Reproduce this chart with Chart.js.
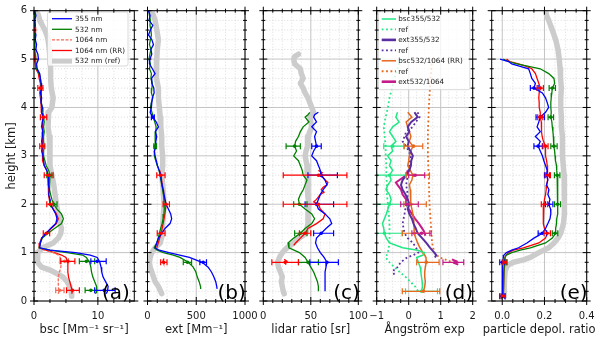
<!DOCTYPE html>
<html>
<head>
<meta charset="utf-8">
<script src="https://cdn.jsdelivr.net/npm/chart.js@4.4.0/dist/chart.umd.min.js"></script>
<style>
  html, body { margin: 0; padding: 0; background: #fff; }
  #wrap { position: relative; width: 600px; height: 341px; }
  #wrap canvas { position: absolute; left: 0; top: 0; }
</style>
</head>
<body>
<div id="wrap">
  <canvas id="pa" width="600" height="341"></canvas>
  <canvas id="pb" width="600" height="341"></canvas>
  <canvas id="pc" width="600" height="341"></canvas>
  <canvas id="pd" width="600" height="341"></canvas>
  <canvas id="pe" width="600" height="341"></canvas>
</div>
<script>
// ---- axes ----
const yMajor = [0, 1, 2, 3, 4, 5, 6];
const yMinor = [0.2, 0.4, 0.6, 0.8, 1.2, 1.4, 1.6, 1.8, 2.2, 2.4, 2.6, 2.8, 3.2, 3.4, 3.6, 3.8, 4.2, 4.4, 4.6, 4.8, 5.2, 5.4, 5.6, 5.8];

// ---- (a) backscatter ----
const hA = [6.0, 5.9, 5.8, 5.7, 5.6, 5.5, 5.4, 5.3, 5.2, 5.1, 5.0, 4.9, 4.8, 4.7, 4.6, 4.5, 4.4, 4.3, 4.2, 4.1,
  4.0, 3.9, 3.8, 3.7, 3.6, 3.5, 3.4, 3.3, 3.2, 3.1, 3.0, 2.9, 2.8, 2.7, 2.6, 2.5, 2.4, 2.3, 2.2, 2.1,
  2.0, 1.9, 1.8, 1.7, 1.6, 1.5, 1.4, 1.3, 1.2, 1.1, 1.05, 1.0, 0.95, 0.9, 0.8, 0.7, 0.6, 0.5, 0.4, 0.3, 0.2, 0.15];
const bsc355 = [0.1, 0.3, 0.1, 0.2, 0.1, 0.3, 0.2, 0.4, 0.3, 0.6, 0.7, 0.4, 0.5, 0.9, 1.0, 1.1, 1.2, 1.0, 1.2, 1.1,
  1.3, 1.2, 1.5, 1.3, 1.2, 1.4, 1.3, 1.2, 1.3, 1.2, 1.4, 1.5, 1.6, 2.0, 2.2, 2.3, 2.2, 2.4, 2.3, 2.5,
  2.6, 3.0, 3.4, 3.6, 3.4, 2.6, 1.9, 1.2, 1.0, 0.9, 2.5, 6.5, 8.8, 9.9, 10.3, 10.5, 10.6, 10.8, 11.2, 11.6, 11.5, 11.3];
const bsc532 = [0.05, 0.1, 0.05, 0.1, 0.1, 0.1, 0.15, 0.1, 0.15, 0.2, 0.2, 0.3, 0.4, 0.8, 1.0, 1.1, 1.1, 1.1, 1.2, 1.2,
  1.3, 1.4, 1.5, 1.6, 1.5, 1.6, 1.5, 1.5, 1.6, 1.5, 1.5, 1.7, 1.9, 2.3, 2.5, 2.4, 2.4, 2.5, 2.6, 2.8,
  3.1, 3.6, 4.3, 4.6, 4.3, 3.2, 2.2, 1.3, 1.0, 0.8, 2.5, 5.2, 7.6, 8.2, 8.7, 8.9, 9.0, 9.2, 9.5, 9.8, 9.8, 9.6];
const bsc1064rr = [0.1, 0.1, 0.1, 0.2, 0.1, 0.2, 0.2, 0.1, 0.1, 0.1, 0.1, 0.2, 0.3, 0.7, 0.8, 1.0, 1.0, 0.9, 1.0, 1.1,
  1.1, 1.2, 1.4, 1.4, 1.3, 1.4, 1.3, 1.3, 1.3, 1.3, 1.3, 1.4, 1.6, 2.0, 2.2, 2.3, 2.2, 2.3, 2.3, 2.4,
  2.5, 3.0, 3.5, 3.8, 3.5, 2.7, 1.9, 1.2, 0.9, 0.8, 1.8, 3.2, 4.3, 5.0, 5.3, 5.3, 5.3, 5.4, 5.6, 5.8, 6.0, 5.9];
const h1064 = [1.1, 1.05, 1.0, 0.95, 0.9, 0.8, 0.7, 0.6, 0.5, 0.4, 0.3, 0.2, 0.15];
const bsc1064 = [0.8, 1.8, 3.0, 3.8, 4.1, 4.3, 4.2, 4.0, 3.8, 3.8, 3.8, 3.9, 3.8];
const hRefA = [6.0, 5.9, 5.8, 5.7, 5.6, 5.5, 5.4, 5.3, 5.2, 5.0, 4.8, 4.6, 4.4, 4.2, 4.0, 3.9, 3.8, 3.6, 3.4, 3.2, 3.0, 2.8,
  2.6, 2.4, 2.2, 2.0, 1.8, 1.6, 1.5, 1.4, 1.3, 1.2, 1.1, 1.0, 0.9, 0.8, 0.7, 0.64, 0.55, 0.5, 0.4, 0.3, 0.2, 0.1];
const bscRef = [0.4, 0.7, 0.9, 1.3, 1.7, 2.0, 2.2, 2.3, 2.4, 2.5, 2.6, 2.6, 2.7, 3.0, 2.8, 2.3, 2.2, 2.2, 2.4, 2.5, 2.5, 2.5,
  2.8, 3.1, 3.3, 3.5, 3.8, 4.1, 4.3, 4.2, 3.8, 3.0, 1.4, 0.6, 0.5, 0.6, 1.2, 2.5, 3.8, 4.5, 5.2, 5.6, 5.8, 5.9];

// ---- (b) extinction ----
const hB = [6.0, 5.9, 5.8, 5.7, 5.6, 5.5, 5.4, 5.3, 5.2, 5.1, 5.0, 4.9, 4.8, 4.7, 4.6, 4.5, 4.4, 4.3, 4.2, 4.1,
  4.0, 3.9, 3.8, 3.7, 3.6, 3.5, 3.4, 3.3, 3.2, 3.1, 3.0, 2.9, 2.8, 2.7, 2.6, 2.5, 2.4, 2.3, 2.2, 2.1,
  2.0, 1.9, 1.8, 1.7, 1.6, 1.5, 1.4, 1.3, 1.2, 1.1, 1.05, 1.0, 0.95, 0.9, 0.8, 0.7, 0.6, 0.5, 0.4, 0.3, 0.25];
const ext355 = [10, 27, 15, 54, 30, 10, 45, 61, 35, 44, 25, 20, 50, 78, 40, 44, 65, 68, 50, 44,
  40, 27, 54, 90, 112, 80, 95, 85, 88, 70, 78, 90, 102, 120, 136, 140, 150, 160, 170, 180,
  190, 214, 238, 248, 231, 180, 146, 112, 95, 78, 120, 220, 330, 430, 560, 622, 656, 680, 700, 710, 714];
const ext532 = [15, 20, 30, 25, 35, 40, 30, 20, 35, 25, 15, 30, 20, 40, 35, 50, 45, 40, 55, 40,
  30, 45, 60, 75, 88, 85, 78, 80, 78, 72, 70, 85, 100, 118, 130, 138, 146, 155, 163, 168,
  170, 172, 168, 160, 150, 135, 122, 110, 95, 68, 100, 163, 265, 333, 418, 469, 496, 510, 530, 544, 545];
const hExt1064 = [2.7, 2.6, 2.5, 2.4, 2.3, 2.2, 2.1, 2.0, 1.9, 1.8, 1.7, 1.6, 1.5, 1.4, 1.3, 1.2, 1.1];
const ext1064 = [125, 136, 145, 150, 160, 165, 175, 190, 185, 178, 170, 160, 150, 140, 125, 110, 95];
const hExt1064Low = [0.88, 0.84, 0.8, 0.76];
const ext1064Low = [170, 160, 165, 175];
const hRefB = [6.0, 5.8, 5.6, 5.4, 5.2, 5.0, 4.8, 4.6, 4.4, 4.2, 4.0, 3.8, 3.6, 3.4, 3.2, 3.0, 2.8, 2.6, 2.4, 2.2,
  2.0, 1.8, 1.6, 1.4, 1.2, 1.1, 1.0, 0.9, 0.8, 0.7, 0.6, 0.5, 0.4, 0.3, 0.2, 0.15];
const extRef = [44, 78, 95, 112, 100, 95, 88, 95, 112, 112, 122, 130, 136, 146, 146, 156, 156, 146, 156, 163,
  170, 163, 156, 156, 130, 78, 44, 27, 20, 27, 44, 61, 78, 112, 136, 146];

// ---- (c) lidar ratio ----
const hC = [3.9, 3.85, 3.8, 3.7, 3.6, 3.5, 3.4, 3.3, 3.2, 3.1, 3.0, 2.9, 2.8, 2.7, 2.6, 2.5, 2.4, 2.3, 2.2, 2.1,
  2.0, 1.9, 1.8, 1.7, 1.6, 1.5, 1.4, 1.3, 1.2, 1.1, 1.0, 0.9, 0.8, 0.7, 0.6, 0.5, 0.4, 0.3, 0.2];
const lr355 = [58, 54, 53, 56, 51, 56, 54, 55, 56, 53, 51, 56, 58, 60, 61, 65, 67, 63, 60, 58,
  56, 58, 65, 70, 72, 66, 61, 56, 55, 57, 60, 64, 67, 66, 65, 65, 65, 65, 65];
const lr532 = [49, 47, 44, 48, 42, 39, 37, 34, 33, 35, 32, 37, 39, 41, 42, 46, 44, 42, 39, 37,
  38, 44, 51, 54, 51, 44, 39, 32, 26, 27, 38, 44, 47, 50, 53, 55, 57, 58, 58];
const hLr1064 = [2.7, 2.65, 2.6, 2.55, 2.5, 2.45, 2.4, 2.35, 2.3, 2.25, 2.2, 2.1, 2.05, 2.0, 1.9, 1.8, 1.7, 1.6, 1.5, 1.4, 1.3, 1.2, 1.15];
const lr1064 = [58, 62, 58, 63, 65, 68, 67, 63, 61, 64, 60, 56, 53, 58, 60, 65, 63, 56, 47, 44, 39, 34, 32];
const hLr1064Low = [0.86, 0.82, 0.78, 0.75];
const lr1064Low = [22, 25, 23, 24];
const hRefC = [5.1, 5.05, 5.0, 4.9, 4.8, 4.7, 4.6, 4.5, 4.4, 4.3, 4.2, 4.1, 4.0, 3.9, 3.8, 3.7, 3.6, 3.5, 3.4, 3.3,
  3.2, 3.1, 3.0, 2.8, 2.6, 2.4, 2.2, 2.0, 1.8, 1.6, 1.4, 1.3, 1.2, 1.1, 1.0, 0.9, 0.8, 0.7, 0.6, 0.5, 0.4, 0.3, 0.2, 0.15];
const lrRef = [37, 33, 32, 33, 39, 40, 42, 39, 42, 44, 47, 49, 51, 53, 49, 50, 51, 49, 47, 46,
  47, 45, 44, 46, 47, 46, 47, 48, 47, 47, 45, 38, 32, 25, 20, 17, 15, 16, 18, 20, 19, 20, 21, 22];

// ---- (d) Angstrom exponents ----
const hD = [3.9, 3.8, 3.7, 3.6, 3.5, 3.4, 3.3, 3.2, 3.1, 3.0, 2.9, 2.8, 2.7, 2.6, 2.5, 2.4, 2.3, 2.2, 2.1, 2.0,
  1.9, 1.8, 1.7, 1.6, 1.5, 1.4, 1.3, 1.2, 1.1, 1.05, 1.0, 0.95, 0.9, 0.8, 0.7, 0.6, 0.5, 0.4, 0.3, 0.2];
const aeBsc355 = [-0.35, -0.4, -0.3, -0.5, -0.6, -0.5, -0.4, -0.55, -0.5, -0.66, -0.55, -0.6, -0.5, -0.6, -0.55, -0.65, -0.71, -0.6, -0.55, -0.6,
  -0.65, -0.7, -0.76, -0.82, -0.78, -0.76, -0.7, -0.6, -0.19, 0.28, 0.49, 0.45, 0.25, 0.3, 0.36, 0.38, 0.4, 0.42, 0.43, 0.4];
const aeBsc532 = [-0.03, 0.1, -0.08, -0.03, 0.02, 0.07, 0.02, 0.13, 0.07, 0.02, 0.0, -0.03, 0.05, 0.13, 0.1, 0.02, 0.05, 0.07, 0.05, 0.07,
  0.1, 0.13, 0.15, 0.16, 0.17, 0.17, 0.22, 0.28, 0.35, 0.4, 0.43, 0.5, 0.54, 0.55, 0.52, 0.5, 0.5, 0.52, 0.5, 0.46];
const hBscRef355 = [5.0, 4.8, 4.6, 4.4, 4.2, 4.0, 3.8, 3.6, 3.4, 3.2, 3.0, 2.8, 2.6, 2.4, 2.2, 2.0, 1.8, 1.6, 1.4, 1.2,
  1.0, 0.9, 0.8, 0.7, 0.6, 0.5, 0.4, 0.3, 0.2];
const aeBsc355Ref = [-0.25, -0.35, -0.45, -0.52, -0.6, -0.65, -0.72, -0.78, -0.75, -0.72, -0.72, -0.7, -0.7, -0.68, -0.68, -0.65, -0.62, -0.6, -0.6, -0.6,
  -0.65, -0.72, -0.6, -0.45, -0.28, -0.1, 0.05, 0.2, 0.3];
const hExt355 = [3.9, 3.8, 3.7, 3.6, 3.5, 3.4, 3.3, 3.2, 3.1, 3.0, 2.9, 2.8, 2.7, 2.6, 2.5, 2.4, 2.3, 2.2, 2.1, 2.0,
  1.9, 1.8, 1.7, 1.6, 1.5, 1.4, 1.3, 1.2, 1.1, 1.0, 0.95, 0.9];
const aeExt355 = [0.18, 0.28, 0.08, -0.03, 0.02, -0.08, 0.0, -0.03, 0.05, 0.13, 0.08, 0.07, 0.02, -0.08, -0.19, -0.24, -0.19, -0.1, -0.03, 0.02,
  -0.03, 0.02, 0.1, 0.15, 0.22, 0.28, 0.42, 0.55, 0.67, 0.8, 0.86, 0.82];
const hExtRef355 = [3.9, 3.8, 3.7, 3.6, 3.5, 3.4, 3.3, 3.2, 3.0, 2.8, 2.6, 2.4, 2.2, 2.0, 1.8, 1.6, 1.4, 1.3, 1.2, 1.1,
  1.0, 0.95, 0.9, 0.85, 0.8, 0.75, 0.7, 0.65, 0.6, 0.55, 0.5];
const aeExt355Ref = [0.28, 0.34, 0.22, 0.13, -0.08, -0.13, -0.19, -0.08, 0.07, 0.02, -0.03, -0.08, -0.03, -0.08, -0.13, -0.19, -0.13, -0.03, 0.13, 0.23,
  0.3, 0.15, -0.05, -0.15, -0.25, -0.3, -0.35, -0.45, -0.5, -0.45, -0.42];
const hBscRef532 = [5.0, 4.5, 4.0, 3.5, 3.0, 2.5, 2.0, 1.5, 1.2, 1.0, 0.95, 0.9, 0.85, 0.8, 0.75];
const aeBsc532Ref = [0.73, 0.67, 0.63, 0.6, 0.6, 0.63, 0.65, 0.7, 0.73, 0.8, 0.88, 0.96, 1.17, 1.38, 1.49];
const hExt532 = [2.7, 2.6, 2.5, 2.45, 2.4, 2.3, 2.2, 2.1, 2.0, 1.9, 1.8, 1.7, 1.6, 1.5, 1.45, 1.4, 1.35];
const aeExt532 = [-0.03, -0.08, -0.29, -0.4, -0.35, -0.24, -0.19, -0.08, -0.08, 0.0, 0.1, 0.2, 0.32, 0.42, 0.47, 0.5, 0.52];
const hExt532Low = [0.86, 0.82, 0.78, 0.75];
const aeExt532Low = [1.35, 1.5, 1.45, 1.55];

// ---- (e) particle depolarization ----
const hE = [5.0, 4.95, 4.9, 4.85, 4.8, 4.7, 4.6, 4.5, 4.4, 4.3, 4.2, 4.1, 4.0, 3.9, 3.8, 3.7, 3.6, 3.5, 3.4, 3.3,
  3.2, 3.1, 3.0, 2.9, 2.8, 2.7, 2.6, 2.5, 2.4, 2.3, 2.2, 2.1, 2.0, 1.9, 1.8, 1.7, 1.6, 1.5, 1.4, 1.3,
  1.2, 1.1, 1.05, 1.0, 0.95, 0.9, 0.8, 0.6, 0.4, 0.2, 0.1];
const pdr355 = [-0.01, 0.03, 0.045, 0.085, 0.125, 0.133, 0.14, 0.157, 0.15, 0.19, 0.205, 0.213, 0.22, 0.205, 0.18, 0.173, 0.165, 0.18, 0.157, 0.18,
  0.17, 0.18, 0.19, 0.197, 0.205, 0.213, 0.21, 0.216, 0.21, 0.221, 0.216, 0.226, 0.22, 0.229, 0.23, 0.226, 0.216, 0.205, 0.19, 0.15,
  0.117, 0.077, 0.045, 0.02, 0.008, 0.005, 0.002, 0.0, 0.0, 0.0, 0.0];
const pdr532 = [0.005, 0.03, 0.069, 0.125, 0.18, 0.22, 0.245, 0.248, 0.237, 0.235, 0.232, 0.23, 0.23, 0.232, 0.23, 0.235, 0.237, 0.24, 0.242, 0.243,
  0.245, 0.248, 0.25, 0.252, 0.257, 0.258, 0.26, 0.262, 0.264, 0.263, 0.264, 0.262, 0.264, 0.262, 0.26, 0.258, 0.257, 0.253, 0.253, 0.237,
  0.205, 0.133, 0.085, 0.045, 0.02, 0.013, 0.01, 0.008, 0.006, 0.005, 0.005];
const pdr1064 = [0.02, 0.035, 0.077, 0.115, 0.14, 0.157, 0.165, 0.173, 0.18, 0.175, 0.173, 0.175, 0.175, 0.18, 0.18, 0.185, 0.184, 0.188, 0.189, 0.195,
  0.205, 0.205, 0.205, 0.21, 0.213, 0.215, 0.216, 0.213, 0.21, 0.208, 0.205, 0.2, 0.197, 0.195, 0.194, 0.194, 0.195, 0.2, 0.213, 0.205,
  0.173, 0.1, 0.053, 0.03, 0.018, 0.013, 0.013, 0.008, 0.005, 0.005, 0.005];
const hRefE = [6.0, 5.9, 5.8, 5.6, 5.4, 5.2, 5.0, 4.8, 4.6, 4.4, 4.2, 4.0, 3.8, 3.6, 3.4, 3.2, 3.0, 2.8, 2.6, 2.4,
  2.2, 2.0, 1.8, 1.6, 1.4, 1.3, 1.2, 1.1, 1.0, 0.9, 0.85, 0.8, 0.75, 0.7, 0.6, 0.4, 0.2, 0.1];
const pdrRef = [0.205, 0.21, 0.22, 0.237, 0.253, 0.264, 0.27, 0.274, 0.276, 0.28, 0.277, 0.277, 0.28, 0.28, 0.285, 0.285, 0.285, 0.289, 0.293, 0.293,
  0.296, 0.296, 0.293, 0.29, 0.277, 0.264, 0.245, 0.22, 0.173, 0.133, 0.1, 0.053, 0.03, 0.02, 0.013, 0.01, 0.01, 0.01];

// ---- colours ----
const C355 = '#0000ff', C532 = '#008000', C1064 = '#ff0000', C1064D = '#f46a55', CREF = '#cccccc';
const CSG = '#22e884', CPU = '#5a2ea0', COR = '#e5681c', CMG = '#c51b8a';

// error bars: [colour, heights, centre, low, high]
const errA = [
  [C1064D, [0.82, 0.22], [4.8, 4.0], [4.2, 3.4], [5.4, 4.7]],
  [C532, [2.6, 2.0, 0.82, 0.22], [2.5, 3.1, 8.2, 8.9], [2.0, 2.6, 7.1, 8.0], [3.0, 3.6, 9.5, 9.8]],
  [C355, [0.82, 0.22], [9.9, 11.0], [8.9, 9.5], [11.3, 12.7]],
  [C1064, [5.6, 5.0, 4.4, 3.8, 3.2, 2.6, 2.0, 1.4, 0.82, 0.22], [0.1, 0.1, 1.0, 1.5, 1.3, 2.2, 2.5, 1.95, 5.3, 6.0],
    [0.0, 0.0, 0.6, 1.0, 0.9, 1.6, 2.0, 1.45, 4.1, 5.1], [0.25, 0.25, 1.4, 2.0, 1.7, 2.8, 3.0, 2.45, 6.4, 7.1]]
];
const errB = [
  [C532, [3.2, 0.8], [78, 410], [65, 367], [92, 452]],
  [C355, [3.8, 0.8], [54, 571], [40, 537], [70, 605]],
  [C1064, [2.6, 2.0, 1.4, 0.8], [136, 190, 140, 165], [95, 160, 100, 135], [180, 225, 180, 200]]
];
const errC = [
  [C532, [3.2, 2.0, 1.4, 0.8], [33, 38, 39, 47], [24, 32, 33, 37], [39, 46, 46, 58]],
  [C355, [3.2, 2.6, 2.0, 1.4, 0.8], [56, 61, 56, 61, 67], [51, 47, 44, 53, 49], [61, 78, 74, 74, 79]],
  [C1064, [2.6, 2.0, 1.4, 0.8], [58, 58, 44, 23], [21, 21, 38, 9], [88, 88, 50, 37]]
];
const errD = [
  [CSG, [3.2, 2.6, 2.0, 1.4, 0.2], [-0.5, -0.6, -0.6, -0.76, 0.4], [-0.78, -1.0, -1.0, -1.0, -0.1], [-0.15, -0.1, -0.05, -0.2, 0.9]],
  [COR, [3.2, 2.6, 2.0, 1.4, 0.8, 0.2], [0.15, 0.15, 0.07, 0.18, 0.55, 0.46], [-0.14, -0.08, -0.15, -0.2, 0.25, -0.2], [0.44, 0.65, 0.55, 0.65, 0.95, 0.97]],
  [CMG, [2.6, 2.0, 1.4, 0.8], [0.2, -0.05, 0.4, 1.45], [0.0, -0.25, 0.1, 1.07], [0.5, 0.3, 0.7, 1.72]]
];
const errE = [
  [C532, [4.4, 3.8, 3.2, 2.6, 2.0, 1.4, 0.8, 0.1], [0.237, 0.23, 0.245, 0.26, 0.262, 0.25, 0.01, 0.005],
    [0.222, 0.217, 0.23, 0.247, 0.248, 0.237, 0.0, -0.005], [0.252, 0.243, 0.26, 0.273, 0.276, 0.263, 0.02, 0.015]],
  [C355, [4.4, 3.8, 3.2, 2.6, 2.0, 1.4, 0.8, 0.1], [0.15, 0.18, 0.17, 0.21, 0.22, 0.19, 0.0, 0.0],
    [0.133, 0.16, 0.15, 0.2, 0.205, 0.17, -0.012, -0.012], [0.17, 0.2, 0.19, 0.225, 0.24, 0.21, 0.012, 0.012]],
  [C1064, [4.4, 3.8, 3.2, 2.6, 2.0, 1.4, 0.8, 0.1], [0.18, 0.18, 0.205, 0.216, 0.2, 0.213, 0.013, 0.005],
    [0.165, 0.168, 0.193, 0.204, 0.185, 0.198, 0.003, -0.005], [0.195, 0.192, 0.217, 0.228, 0.215, 0.228, 0.023, 0.015]]
];

Chart.defaults.font.family = "'DejaVu Sans', sans-serif";
Chart.defaults.color = '#1a1a1a';

const TOP = 10.7, BOTTOM = 301;
const extras = {};

function ln(h, v, color, extra) {
  return Object.assign({
    data: h.map((y, i) => ({ x: v[i], y: y })),
    borderColor: color, backgroundColor: color, borderWidth: 1.3,
    showLine: true, pointRadius: 0, pointHoverRadius: 0, tension: 0, order: 1, clip: 0
  }, extra || {});
}
const refLine = (h, v) => ln(h, v, CREF, { borderWidth: 5.5, order: 10, borderCapStyle: 'round', borderJoinStyle: 'round' });
const dotted = (h, v, c) => ln(h, v, c, { borderWidth: 1.8, borderDash: [1.8, 2.6], order: 2 });

const framePlugin = {
  id: 'frame',
  beforeDatasetsDraw(chart) {
    const ex = extras[chart.canvas.id];
    const { ctx, chartArea: a, scales: { x, y } } = chart;
    ctx.save();
    ctx.lineWidth = 0.8;
    ctx.strokeStyle = '#d2d2d2';
    ctx.setLineDash([1, 2]);
    ctx.beginPath();
    ex.xMinor.forEach(v => { const p = x.getPixelForValue(v); ctx.moveTo(p, a.top); ctx.lineTo(p, a.bottom); });
    yMinor.forEach(v => { const p = y.getPixelForValue(v); ctx.moveTo(a.left, p); ctx.lineTo(a.right, p); });
    ctx.stroke();
    ctx.setLineDash([]);
    ctx.strokeStyle = '#c4c4c4';
    ctx.lineWidth = 1;
    ctx.beginPath();
    ex.xMajor.forEach(v => { const p = x.getPixelForValue(v); ctx.moveTo(p, a.top); ctx.lineTo(p, a.bottom); });
    yMajor.forEach(v => { const p = y.getPixelForValue(v); ctx.moveTo(a.left, p); ctx.lineTo(a.right, p); });
    ctx.stroke();
    ctx.restore();
  },
  afterDatasetsDraw(chart) {
    const ex = extras[chart.canvas.id];
    const { ctx, chartArea: a, scales: { x, y } } = chart;
    ctx.save();
    // error bars
    ctx.beginPath();
    ctx.rect(a.left, a.top, a.right - a.left, a.bottom - a.top);
    ctx.clip();
    ex.errs.forEach(([col, hs, vs, lo, hi]) => {
      ctx.strokeStyle = col; ctx.fillStyle = col; ctx.lineWidth = 1.2;
      hs.forEach((h, i) => {
        const py = y.getPixelForValue(h);
        const x1 = x.getPixelForValue(lo[i]), x2 = x.getPixelForValue(hi[i]), xc = x.getPixelForValue(vs[i]);
        ctx.beginPath();
        ctx.moveTo(x1, py); ctx.lineTo(x2, py);
        ctx.moveTo(x1, py - 3); ctx.lineTo(x1, py + 3);
        ctx.moveTo(x2, py - 3); ctx.lineTo(x2, py + 3);
        ctx.stroke();
        ctx.beginPath();
        ctx.arc(xc, py, 1.8, 0, Math.PI * 2);
        ctx.fill();
      });
    });
    ctx.restore();

    ctx.save();
    // legend
    if (ex.legend) {
      const lg = ex.legend;
      const x0 = a.left + lg.dx, y0 = a.top + lg.dy;
      ctx.fillStyle = 'rgba(255,255,255,0.8)';
      ctx.strokeStyle = '#d0d0d0';
      ctx.lineWidth = 0.8;
      ctx.beginPath();
      ctx.roundRect(x0, y0, lg.w, lg.h, 2);
      ctx.fill(); ctx.stroke();
      ctx.font = lg.font + "px 'DejaVu Sans'";
      ctx.textBaseline = 'middle';
      ctx.textAlign = 'left';
      lg.items.forEach((it, i) => {
        const cy = y0 + lg.first + i * lg.row;
        ctx.strokeStyle = it.color;
        ctx.lineWidth = it.width;
        ctx.setLineDash(it.dash || []);
        ctx.beginPath();
        ctx.moveTo(x0 + lg.sx, cy); ctx.lineTo(x0 + lg.sx + lg.len, cy);
        ctx.stroke();
        ctx.setLineDash([]);
        ctx.fillStyle = '#1a1a1a';
        ctx.fillText(it.label, x0 + lg.tx, cy + 0.5);
      });
    }
    // spines and ticks (in-out)
    ctx.setLineDash([]);
    ctx.strokeStyle = '#000';
    ctx.lineWidth = 1;
    ctx.strokeRect(a.left, a.top, a.right - a.left, a.bottom - a.top);
    ctx.beginPath();
    const tick = (vals, axis, len) => vals.forEach(v => {
      if (axis === 'y') {
        const p = y.getPixelForValue(v);
        ctx.moveTo(a.left - len, p); ctx.lineTo(a.left + len, p);
        ctx.moveTo(a.right - len, p); ctx.lineTo(a.right + len, p);
      } else {
        const p = x.getPixelForValue(v);
        ctx.moveTo(p, a.bottom - len); ctx.lineTo(p, a.bottom + len);
        ctx.moveTo(p, a.top - len); ctx.lineTo(p, a.top + len);
      }
    });
    tick(yMajor, 'y', 4);
    tick(yMinor, 'y', 2);
    tick(ex.xMajor, 'x', 4);
    tick(ex.xMinor, 'x', 2);
    ctx.stroke();
    // panel letter
    ctx.fillStyle = '#000';
    ctx.font = "20px 'DejaVu Sans'";
    ctx.textBaseline = 'alphabetic';
    ctx.textAlign = 'left';
    ctx.fillText(ex.letter, a.left + ex.letterX, a.bottom - 2);
    // x axis title (not squeezed to the panel width)
    ctx.fillStyle = '#1a1a1a';
    ctx.font = "11.5px 'DejaVu Sans'";
    ctx.textAlign = 'center';
    ctx.textBaseline = 'middle';
    ctx.fillText(ex.xTitle, (a.left + a.right) / 2, 330);
    ctx.restore();
  }
};
Chart.register(framePlugin);

function panel(id, p) {
  extras[id] = p;
  new Chart(document.getElementById(id), {
    type: 'scatter',
    data: { datasets: p.datasets },
    options: {
      responsive: false,
      animation: false,
      events: [],
      layout: { padding: { left: p.showY ? 0 : p.left, right: 600 - p.right, top: TOP, bottom: 0 } },
      plugins: { legend: { display: false }, tooltip: { enabled: false } },
      scales: {
        x: {
          type: 'linear', position: 'bottom', min: p.xMin, max: p.xMax,
          grid: { display: false, drawTicks: false }, border: { display: false },
          afterBuildTicks: s => { s.ticks = p.xMajor.map(v => ({ value: v })); },
          afterFit: s => { s.height = 341 - BOTTOM; s.paddingLeft = 0; s.paddingRight = 0; },
          ticks: { font: { size: 10 }, padding: 9.5, maxRotation: 0, autoSkip: false, callback: p.fmt },
          title: { display: false }
        },
        y: {
          type: 'linear', min: 0, max: 6, display: !!p.showY,
          grid: { display: false, drawTicks: false }, border: { display: false },
          afterBuildTicks: s => { s.ticks = yMajor.map(v => ({ value: v })); },
          afterFit: s => { s.width = p.showY ? p.left : 0; s.paddingTop = 0; s.paddingBottom = 0; },
          ticks: { font: { size: 10 }, padding: 7, autoSkip: false },
          title: { display: true, text: 'height [km]', font: { size: 11.5 }, padding: { top: 5, bottom: 0 } }
        }
      }
    }
  });
}

const plain = v => String(v);

panel('pa', {
  left: 34, right: 134.3, xMin: 0, xMax: 15.7, showY: true,
  xMajor: [0, 10], xMinor: [2.5, 5, 7.5, 12.5, 15], fmt: plain,
  xTitle: 'bsc [Mm\u207B\u00B9 sr\u207B\u00B9]', letter: '(a)', letterX: 68,
  errs: errA,
  legend: {
    dx: 13.5, dy: 1.3, w: 80.5, h: 54, first: 6.7, row: 10.6, sx: 4.5, len: 20, tx: 27.5, font: 7.2,
    items: [
      { label: '355 nm', color: C355, width: 1.3 },
      { label: '532 nm', color: C532, width: 1.3 },
      { label: '1064 nm', color: C1064D, width: 1.3, dash: [3, 1.5] },
      { label: '1064 nm (RR)', color: C1064, width: 1.3 },
      { label: '532 nm (ref)', color: CREF, width: 5 }
    ]
  },
  datasets: [
    ln(hA, bsc355, C355),
    ln(hA, bsc532, C532),
    ln(h1064, bsc1064, C1064D, { borderDash: [3, 1.5] }),
    ln(hA, bsc1064rr, C1064),
    refLine(hRefA, bscRef)
  ]
});

panel('pb', {
  left: 147.5, right: 245, xMin: 0, xMax: 1000,
  xMajor: [0, 500, 1000], xMinor: [100, 200, 300, 400, 600, 700, 800, 900], fmt: plain,
  xTitle: 'ext [Mm\u207B\u00B9]', letter: '(b)', letterX: 70,
  errs: errB,
  datasets: [
    ln(hB, ext355, C355),
    ln(hB, ext532, C532),
    ln(hExt1064, ext1064, C1064),
    ln(hExt1064Low, ext1064Low, C1064),
    refLine(hRefB, extRef)
  ]
});

panel('pc', {
  left: 263.3, right: 358.3, xMin: 0, xMax: 100,
  xMajor: [0, 50, 100], xMinor: [10, 20, 30, 40, 60, 70, 80, 90], fmt: plain,
  xTitle: 'lidar ratio [sr]', letter: '(c)', letterX: 70,
  errs: errC,
  datasets: [
    ln(hC, lr355, C355),
    ln(hC, lr532, C532),
    ln(hLr1064, lr1064, C1064),
    ln(hLr1064Low, lr1064Low, C1064),
    refLine(hRefC, lrRef)
  ]
});

panel('pd', {
  left: 376.7, right: 472.7, xMin: -1, xMax: 2,
  xMajor: [-1, 0, 1, 2], xMinor: [-0.75, -0.5, -0.25, 0.25, 0.5, 0.75, 1.25, 1.5, 1.75],
  fmt: v => (v < 0 ? '\u2212' + Math.abs(v) : String(v)),
  xTitle: '\u00C5ngstr\u00F6m exp', letter: '(d)', letterX: 68,
  errs: errD,
  legend: {
    dx: 1.6, dy: 1.0, w: 91.5, h: 78, first: 7.3, row: 10.45, sx: 3.4, len: 14.3, tx: 20, font: 7.2,
    items: [
      { label: 'bsc355/532', color: CSG, width: 1.5 },
      { label: 'ref', color: CSG, width: 1.8, dash: [1.8, 2.6] },
      { label: 'ext355/532', color: CPU, width: 2.6 },
      { label: 'ref', color: CPU, width: 1.8, dash: [1.8, 2.6] },
      { label: 'bsc532/1064 (RR)', color: COR, width: 1.5 },
      { label: 'ref', color: COR, width: 1.8, dash: [1.8, 2.6] },
      { label: 'ext532/1064', color: CMG, width: 2.6 }
    ]
  },
  datasets: [
    ln(hD, aeBsc355, CSG, { borderWidth: 1.5 }),
    dotted(hBscRef355, aeBsc355Ref, CSG),
    ln(hExt355, aeExt355, CPU, { borderWidth: 2 }),
    dotted(hExtRef355, aeExt355Ref, CPU),
    ln(hD, aeBsc532, COR, { borderWidth: 1.5 }),
    dotted(hBscRef532, aeBsc532Ref, COR),
    ln(hExt532, aeExt532, CMG, { borderWidth: 2 }),
    ln(hExt532Low, aeExt532Low, CMG, { borderWidth: 2 })
  ]
});

panel('pe', {
  left: 491.7, right: 586.7, xMin: -0.05, xMax: 0.4,
  xMajor: [0, 0.2, 0.4], xMinor: [0.05, 0.1, 0.15, 0.25, 0.3, 0.35], fmt: v => v.toFixed(1),
  xTitle: 'particle depol. ratio', letter: '(e)', letterX: 68,
  errs: errE,
  datasets: [
    ln(hE, pdr355, C355),
    ln(hE, pdr532, C532),
    ln(hE, pdr1064, C1064),
    refLine(hRefE, pdrRef)
  ]
});
</script>
</body>
</html>
